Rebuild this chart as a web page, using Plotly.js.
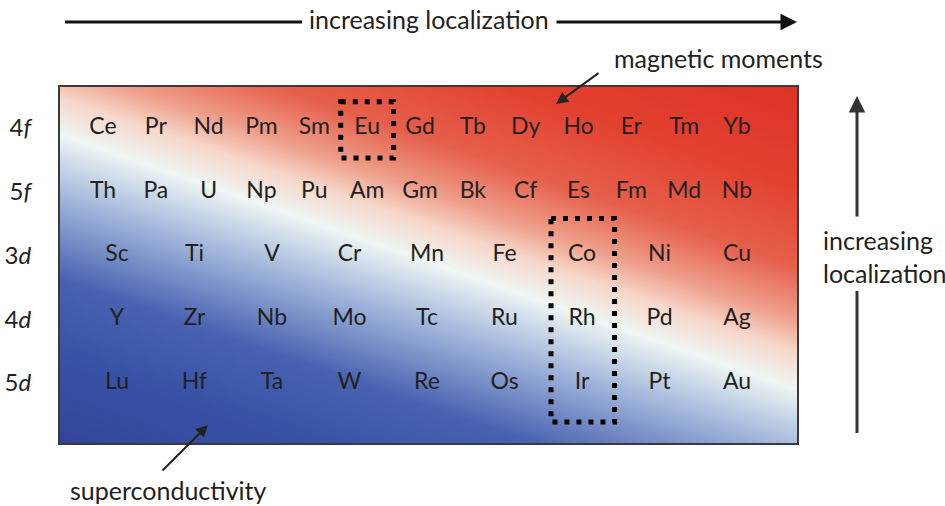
<!DOCTYPE html>
<html>
<head>
<meta charset="utf-8">
<script src="https://cdn.plot.ly/plotly-3.0.1.min.js"></script>
<style>html,body{margin:0;padding:0;background:#fff;}#chart{width:945px;height:506px;}</style>
</head>
<body>
<div id="chart"></div>
<script>
// ---- data ----
const rows = ['4f', '5f', '3d', '4d', '5d'];
const rowLabels = ['4<i>f</i>', '5<i>f</i>', '3<i>d</i>', '4<i>d</i>', '5<i>d</i>'];
const row4f = ['Ce','Pr','Nd','Pm','Sm','Eu','Gd','Tb','Dy','Ho','Er','Tm','Yb'];
const row5f = ['Th','Pa','U','Np','Pu','Am','Gm','Bk','Cf','Es','Fm','Md','Nb'];
const row3d = ['Sc','Ti','V','Cr','Mn','Fe','Co','Ni','Cu'];
const row4d = ['Y','Zr','Nb','Mo','Tc','Ru','Rh','Pd','Ag'];
const row5d = ['Lu','Hf','Ta','W','Re','Os','Ir','Pt','Au'];
const highlightF = 'Eu';
const highlightD = ['Co','Rh','Ir'];

// ---- layout helpers ----
const W = 945, H = 506;
const L = 60, R = 797, T = 87, B = 443;
const px = x => (x - L) / (R - L);
const py = y => (B - y) / (B - T);
const FONT = 'Lato, "Open Sans", sans-serif';
const TXT = '#231f20';

function idx(n){ return n.map((_, i) => i); }

const fRows = [[row4f,'4f'],[row5f,'5f']];
const dRows = [[row3d,'3d'],[row4d,'4d'],[row5d,'5d']];
const traces = [];
fRows.forEach(([names,r]) => traces.push({
  type:'scatter', mode:'text', x: idx(names), y: names.map(()=>r), text: names,
  xaxis:'x', yaxis:'y', textfont:{family:FONT,size:23,color:TXT}, hoverinfo:'skip'
}));
dRows.forEach(([names,r]) => traces.push({
  type:'scatter', mode:'text', x: idx(names), y: names.map(()=>r), text: names,
  xaxis:'x2', yaxis:'y', textfont:{family:FONT,size:23,color:TXT}, hoverinfo:'skip'
}));

// gradient background as SVG image
const stops = [
  [0.00,'#31469b'],[0.15,'#3852a7'],[0.27,'#4963b1'],[0.41,'#a6badd'],
  [0.505,'#eef5f3'],[0.565,'#f6d8cb'],[0.62,'#ee9f8b'],[0.705,'#e5604c'],
  [0.84,'#e3402f'],[1.00,'#dd3229']
];
const gw = R - L, gh = B - T;
const gx2 = 0.327 * 577, gy2 = gh - 0.945 * 577;
const svg = `<svg xmlns="http://www.w3.org/2000/svg" width="${gw}" height="${gh}" viewBox="0 0 ${gw} ${gh}" preserveAspectRatio="none">`+
  `<defs><linearGradient id="g" gradientUnits="userSpaceOnUse" x1="0" y1="${gh}" x2="${gx2}" y2="${gy2}">`+
  stops.map(s=>`<stop offset="${s[0]}" stop-color="${s[1]}"/>`).join('')+
  `</linearGradient></defs><rect x="0" y="0" width="${gw}" height="${gh}" fill="url(#g)"/></svg>`;
const svgURI = 'data:image/svg+xml;charset=utf-8,' + encodeURIComponent(svg);

// axis ranges (pixel mapping of column centres)
const fx0 = 103, fx1 = 737, fstep = (fx1 - fx0) / (row4f.length - 1);
const dx0 = 117, dx1 = 737, dstep = (dx1 - dx0) / (row3d.length - 1);
const ry0 = 128, ry1 = 383, rstep = (ry1 - ry0) / (rows.length - 1);

const eu = row4f.indexOf(highlightF);
const co = row3d.indexOf(highlightD[0]);

const shapes = [
  {type:'rect', xref:'x', yref:'y', x0:eu-0.5, x1:eu+0.5, y0:-0.41, y1:0.47,
   line:{color:'#000', width:5, dash:'5px,7px'}},
  {type:'rect', xref:'x2', yref:'y', x0:co-0.4, x1:co+0.42, y0:rows.indexOf('3d')-0.58, y1:rows.indexOf('5d')+0.61,
   line:{color:'#000', width:5, dash:'5px,7px'}},
  {type:'line', xref:'paper', yref:'paper', x0:px(65), x1:px(302), y0:py(22), y1:py(22),
   line:{color:'#111', width:3}},
  {type:'line', xref:'paper', yref:'paper', x0:px(857), x1:px(857), y0:py(291), y1:py(433),
   line:{color:'#333', width:3}}
];

const annotations = [
  {xref:'paper', yref:'paper', x:px(429), y:py(19), text:'increasing localization', showarrow:false,
   font:{family:FONT,size:25,color:TXT}, xanchor:'center', yanchor:'middle'},
  {xref:'paper', yref:'paper', x:px(797), y:py(22), ax:-242, ay:0, text:'', showarrow:true,
   arrowhead:2, arrowsize:1.1, arrowwidth:3, arrowcolor:'#111'},
  {xref:'paper', yref:'paper', x:px(718), y:py(58), text:'magnetic moments', showarrow:false,
   font:{family:FONT,size:25,color:TXT}, xanchor:'center', yanchor:'middle'},
  {xref:'paper', yref:'paper', x:px(556), y:py(104), ax:44, ay:-32, text:'', showarrow:true,
   arrowhead:2, arrowsize:1.2, arrowwidth:2, arrowcolor:'#222'},
  {xref:'paper', yref:'paper', x:px(168), y:py(490), text:'superconductivity', showarrow:false,
   font:{family:FONT,size:25,color:TXT}, xanchor:'center', yanchor:'middle'},
  {xref:'paper', yref:'paper', x:px(208), y:py(425), ax:-47, ay:47, text:'', showarrow:true,
   arrowhead:2, arrowsize:1.2, arrowwidth:2, arrowcolor:'#222'},
  {xref:'paper', yref:'paper', x:px(857), y:py(96), ax:0, ay:122, text:'', showarrow:true,
   arrowhead:2, arrowsize:1.1, arrowwidth:3, arrowcolor:'#333'},
  {xref:'paper', yref:'paper', x:px(821), y:py(256), text:'increasing<br>localization', showarrow:false,
   font:{family:FONT,size:25,color:TXT}, xanchor:'left', yanchor:'middle', align:'left'}
];

const layout = {
  width: W, height: H,
  margin: {l: L, r: W - R, t: T, b: H - B, pad: 0},
  paper_bgcolor: '#ffffff', plot_bgcolor: 'rgba(0,0,0,0)',
  showlegend: false, hovermode: false,
  xaxis: {range:[-(fx0-L)/fstep, (row4f.length-1)+(R-fx1)/fstep], showgrid:false, zeroline:false,
          showticklabels:false, ticks:'', showline:true, mirror:true, linecolor:'#3a3a3a', linewidth:2, fixedrange:true},
  xaxis2: {range:[-(dx0-L)/dstep, (row3d.length-1)+(R-dx1)/dstep], overlaying:'x', anchor:'y', showgrid:false, zeroline:false,
          showticklabels:false, ticks:'', showline:false, fixedrange:true},
  yaxis: {type:'category', categoryarray: rows, tickvals: rows, ticktext: rowLabels,
          range:[(B-ry0)/rstep, -(ry0-T)/rstep], showgrid:false, zeroline:false, ticks:'',
          ticklabelstandoff: 22, tickfont:{family:FONT,size:24,color:TXT},
          showline:true, mirror:true, linecolor:'#3a3a3a', linewidth:2, fixedrange:true},
  images: [{source: svgURI, xref:'paper', yref:'paper', x:0, y:1, sizex:1, sizey:1,
            xanchor:'left', yanchor:'top', sizing:'stretch', layer:'below'}],
  shapes: shapes,
  annotations: annotations
};

Plotly.newPlot('chart', traces, layout, {displayModeBar:false, staticPlot:true});
</script>
</body>
</html>
